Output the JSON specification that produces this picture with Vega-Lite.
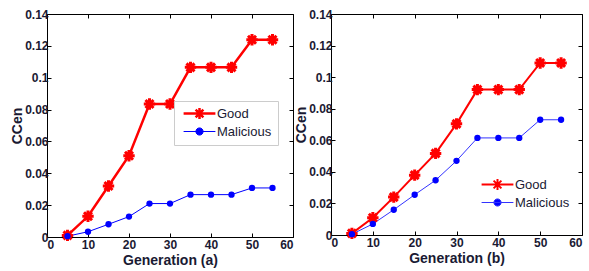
{
  "$schema": "https://vega.github.io/schema/vega-lite/v6.json",
  "background": "white",
  "padding": {"left": 10, "top": 7, "right": 0, "bottom": 0},
  "config": {
    "font": "Liberation Sans",
    "view": {"stroke": "black", "strokeWidth": 1},
    "axis": {
      "domain": false, "grid": false, "ticks": true, "tickSize": -4, "tickColor": "black", "tickWidth": 1,
      "labelFont": "Liberation Sans", "labelFontSize": 12, "labelFontWeight": "bold", "labelColor": "#1a1a33",
      "labelPadding": 4, "titleFont": "Liberation Sans", "titleFontSize": 14, "titleFontWeight": "bold", "titleColor": "#1a1a33",
      "titlePadding": 3
    },
    "axisX": {"labelPadding": 6, "titlePadding": 3},
    "axisY": {"labelPadding": 3, "titlePadding": 0},
    "legend": {
      "labelFont": "Liberation Sans", "labelFontSize": 13, "labelColor": "#1a1a33", "symbolSize": 36,
      "padding": 6, "symbolOffset": 13, "labelOffset": 11
    }
  },
  "datasets": {
    "a": [
      {"gen": 5, "ccen": 0.001, "series": "Good"},
      {"gen": 10, "ccen": 0.013, "series": "Good"},
      {"gen": 15, "ccen": 0.032, "series": "Good"},
      {"gen": 20, "ccen": 0.051, "series": "Good"},
      {"gen": 25, "ccen": 0.0835, "series": "Good"},
      {"gen": 30, "ccen": 0.0835, "series": "Good"},
      {"gen": 35, "ccen": 0.1065, "series": "Good"},
      {"gen": 40, "ccen": 0.1065, "series": "Good"},
      {"gen": 45, "ccen": 0.1065, "series": "Good"},
      {"gen": 50, "ccen": 0.1238, "series": "Good"},
      {"gen": 55, "ccen": 0.1238, "series": "Good"},
      {"gen": 5, "ccen": 0.0005, "series": "Malicious"},
      {"gen": 10, "ccen": 0.0033, "series": "Malicious"},
      {"gen": 15, "ccen": 0.008, "series": "Malicious"},
      {"gen": 20, "ccen": 0.0128, "series": "Malicious"},
      {"gen": 25, "ccen": 0.021, "series": "Malicious"},
      {"gen": 30, "ccen": 0.021, "series": "Malicious"},
      {"gen": 35, "ccen": 0.0266, "series": "Malicious"},
      {"gen": 40, "ccen": 0.0266, "series": "Malicious"},
      {"gen": 45, "ccen": 0.0266, "series": "Malicious"},
      {"gen": 50, "ccen": 0.0308, "series": "Malicious"},
      {"gen": 55, "ccen": 0.0308, "series": "Malicious"}
    ],
    "b": [
      {"gen": 5, "ccen": 0.001, "series": "Good"},
      {"gen": 10, "ccen": 0.0109, "series": "Good"},
      {"gen": 15, "ccen": 0.024, "series": "Good"},
      {"gen": 20, "ccen": 0.0379, "series": "Good"},
      {"gen": 25, "ccen": 0.0517, "series": "Good"},
      {"gen": 30, "ccen": 0.0704, "series": "Good"},
      {"gen": 35, "ccen": 0.0921, "series": "Good"},
      {"gen": 40, "ccen": 0.0921, "series": "Good"},
      {"gen": 45, "ccen": 0.0921, "series": "Good"},
      {"gen": 50, "ccen": 0.109, "series": "Good"},
      {"gen": 55, "ccen": 0.109, "series": "Good"},
      {"gen": 5, "ccen": 0.0005, "series": "Malicious"},
      {"gen": 10, "ccen": 0.007, "series": "Malicious"},
      {"gen": 15, "ccen": 0.016, "series": "Malicious"},
      {"gen": 20, "ccen": 0.0255, "series": "Malicious"},
      {"gen": 25, "ccen": 0.0347, "series": "Malicious"},
      {"gen": 30, "ccen": 0.047, "series": "Malicious"},
      {"gen": 35, "ccen": 0.0615, "series": "Malicious"},
      {"gen": 40, "ccen": 0.0615, "series": "Malicious"},
      {"gen": 45, "ccen": 0.0615, "series": "Malicious"},
      {"gen": 50, "ccen": 0.073, "series": "Malicious"},
      {"gen": 55, "ccen": 0.073, "series": "Malicious"}
    ]
  },
  "bounds": "flush",
  "spacing": 38,
  "resolve": {"scale": {"color": "independent", "strokeWidth": "independent"}, "legend": {"color": "independent"}},
  "hconcat": [
    {
      "width": 246, "height": 223,
      "data": {"name": "a"},
      "resolve": {"axis": {"x": "independent", "y": "independent"}},
      "layer": [
        {
          "mark": {"type": "line"},
          "encoding": {
            "x": {"field": "gen", "type": "quantitative", "scale": {"domain": [0, 60], "nice": false}, "axis": {"values": [0, 10, 20, 30, 40, 50, 60], "title": "Generation (a)"}},
            "y": {"field": "ccen", "type": "quantitative", "scale": {"domain": [0, 0.14], "nice": false}, "axis": {"values": [0, 0.02, 0.04, 0.06, 0.08, 0.1, 0.12, 0.14], "format": "~g", "title": "CCen"}},
            "color": {"field": "series", "type": "nominal", "scale": {"domain": ["Good", "Malicious"], "range": ["#ff0000", "#0000ff"]},
              "legend": {"title": null, "orient": "none", "legendX": 127, "legendY": 87, "strokeColor": "#cccccc", "fillColor": "white", "rowPadding": 1,
                "encode": {"symbols": {"update": {
                  "shape": {"signal": "datum.value === 'Good' ? 'M-5.3,0H5.3M-1.8,0H1.8M0,-1.8V1.8M-1.3,-1.3L1.3,1.3M-1.3,1.3L1.3,-1.3' : 'M-5.3,0H5.3M-1.2,0A1.2,1.2 0 1,0 1.2,0A1.2,1.2 0 1,0 -1.2,0Z'"},
                  "strokeWidth": {"signal": "datum.value === 'Good' ? 3 : 1"},
                  "stroke": {"signal": "datum.value === 'Good' ? '#ff0000' : '#0000ff'"},
                  "fill": {"signal": "datum.value === 'Good' ? 'transparent' : '#0000ff'"},
                  "opacity": {"value": 1}, "fillOpacity": {"value": 1}, "strokeOpacity": {"value": 1}
                }}}}},
            "strokeWidth": {"field": "series", "type": "nominal", "scale": {"domain": ["Good", "Malicious"], "range": [2.5, 1]}, "legend": null}
          }
        },
        {
          "transform": [{"filter": "datum.series === 'Good'"}],
          "mark": {"type": "point", "shape": "M-1,0H1M0,-1V1M-0.7,-0.7L0.7,0.7M-0.7,0.7L0.7,-0.7", "size": 130, "filled": false, "color": "#ff0000", "strokeWidth": 3, "opacity": 1},
          "encoding": {
            "x": {"field": "gen", "type": "quantitative", "axis": null},
            "y": {"field": "ccen", "type": "quantitative", "axis": null}
          }
        },
        {
          "transform": [{"filter": "datum.series === 'Malicious'"}],
          "mark": {"type": "circle", "size": 40, "color": "#0000ff", "opacity": 1},
          "encoding": {
            "x": {"field": "gen", "type": "quantitative", "axis": {"orient": "top", "labels": false, "title": null, "values": [0, 10, 20, 30, 40, 50, 60]}},
            "y": {"field": "ccen", "type": "quantitative", "axis": {"orient": "right", "labels": false, "title": null, "values": [0, 0.02, 0.04, 0.06, 0.08, 0.1, 0.12, 0.14]}}
          }
        }
      ]
    },
    {
      "width": 251, "height": 221,
      "data": {"name": "b"},
      "resolve": {"axis": {"x": "independent", "y": "independent"}},
      "layer": [
        {
          "mark": {"type": "line"},
          "encoding": {
            "x": {"field": "gen", "type": "quantitative", "scale": {"domain": [0, 60], "nice": false}, "axis": {"values": [0, 10, 20, 30, 40, 50, 60], "title": "Generation (b)"}},
            "y": {"field": "ccen", "type": "quantitative", "scale": {"domain": [0, 0.14], "nice": false}, "axis": {"values": [0, 0.02, 0.04, 0.06, 0.08, 0.1, 0.12, 0.14], "format": "~g", "title": "CCen"}},
            "color": {"field": "series", "type": "nominal", "scale": {"domain": ["Good", "Malicious"], "range": ["#ff0000", "#3333ff"]},
              "legend": {"title": null, "orient": "none", "legendX": 141, "legendY": 158, "rowPadding": 2,
                "encode": {"symbols": {"update": {
                  "shape": {"signal": "datum.value === 'Good' ? 'M-5.3,0H5.3M-1.8,0H1.8M0,-1.8V1.8M-1.3,-1.3L1.3,1.3M-1.3,1.3L1.3,-1.3' : 'M-5.3,0H5.3M-1.2,0A1.2,1.2 0 1,0 1.2,0A1.2,1.2 0 1,0 -1.2,0Z'"},
                  "strokeWidth": {"signal": "datum.value === 'Good' ? 3 : 1"},
                  "stroke": {"signal": "datum.value === 'Good' ? '#ff0000' : '#3333ff'"},
                  "fill": {"signal": "datum.value === 'Good' ? 'transparent' : '#0000ff'"},
                  "opacity": {"value": 1}, "fillOpacity": {"value": 1}, "strokeOpacity": {"value": 1}
                }}}}},
            "strokeWidth": {"field": "series", "type": "nominal", "scale": {"domain": ["Good", "Malicious"], "range": [2, 1]}, "legend": null}
          }
        },
        {
          "transform": [{"filter": "datum.series === 'Good'"}],
          "mark": {"type": "point", "shape": "M-1,0H1M0,-1V1M-0.7,-0.7L0.7,0.7M-0.7,0.7L0.7,-0.7", "size": 130, "filled": false, "color": "#ff0000", "strokeWidth": 3, "opacity": 1},
          "encoding": {
            "x": {"field": "gen", "type": "quantitative", "axis": null},
            "y": {"field": "ccen", "type": "quantitative", "axis": null}
          }
        },
        {
          "transform": [{"filter": "datum.series === 'Malicious'"}],
          "mark": {"type": "circle", "size": 40, "color": "#0000ff", "opacity": 1},
          "encoding": {
            "x": {"field": "gen", "type": "quantitative", "axis": {"orient": "top", "labels": false, "title": null, "values": [0, 10, 20, 30, 40, 50, 60]}},
            "y": {"field": "ccen", "type": "quantitative", "axis": {"orient": "right", "labels": false, "title": null, "values": [0, 0.02, 0.04, 0.06, 0.08, 0.1, 0.12, 0.14]}}
          }
        }
      ]
    }
  ]
}
